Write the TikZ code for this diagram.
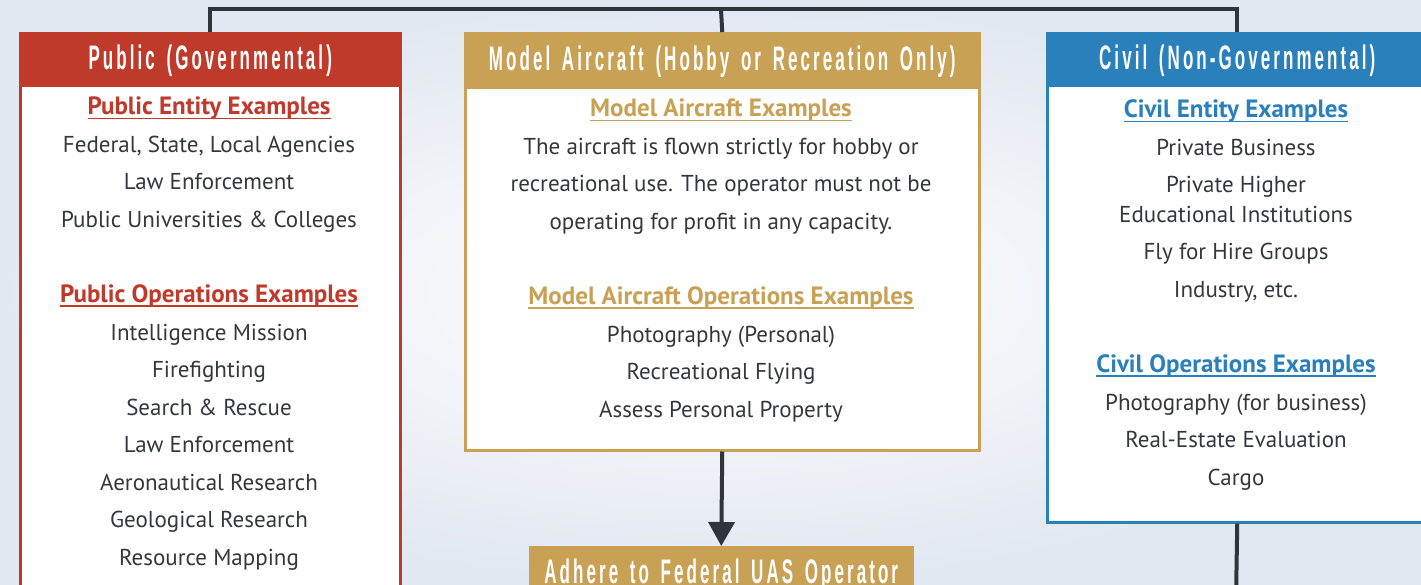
\documentclass[tikz,border=0pt]{standalone}
\usepackage{fontspec}
\setmainfont{PT Sans}
\newfontfamily\headfont[FakeStretch=0.5,LetterSpace=9,WordSpace=1.5]{Liberation Sans Bold}
\usetikzlibrary{arrows.meta,positioning,shadows}

\definecolor{pubred}{RGB}{192,58,44}
\definecolor{modelgold}{RGB}{201,161,85}
\definecolor{civilblue}{RGB}{41,128,186}
\definecolor{linedark}{RGB}{48,52,59}
\definecolor{txtgray}{RGB}{52,55,63}
\definecolor{skyblue}{RGB}{226,232,241}

\newcommand{\exhead}[1]{\setbox0\hbox{\fontsize{25}{25}\selectfont\bfseries #1}\rlap{\rule[-4.5pt]{\wd0}{1.8pt}}\box0}

\begin{document}
\begin{tikzpicture}[x=1pt,y=-1pt,node distance=37.5pt]
  \tikzstyle{card}=[draw,line width=2.5pt,fill=white,anchor=north west,inner sep=0pt,drop shadow={opacity=0.18,shadow xshift=1pt,shadow yshift=-2pt}]
  \tikzstyle{cardhead}=[draw,line width=2.5pt,anchor=north west,inner sep=0pt,minimum height=53pt,text=white,text height=24pt,text depth=4pt,font=\headfont\fontsize{34}{34}\selectfont]
  \tikzstyle{item}=[inner sep=0pt,text=txtgray,text height=16pt,text depth=0pt,font=\fontsize{23}{23}\selectfont]
  \tikzstyle{link}=[draw=linedark,line width=4pt]

  \useasboundingbox (0,0) rectangle (1421,585);
  \shade[inner color=white,outer color=skyblue] (0,0) rectangle (1421,585);

  \node[card,draw=pubred,minimum width=380pt,minimum height=600pt] (pub) at (19,32) {};
  \node[cardhead,fill=pubred,draw=pubred,minimum width=380pt] (pubhead) at (19,32) {Public (Governmental)};
  \node[card,draw=modelgold,minimum width=514pt,minimum height=417pt] (model) at (464,32) {};
  \node[cardhead,fill=modelgold,draw=modelgold,minimum width=514pt,minimum height=55pt] (modelhead) at (464,32) {Model Aircraft (Hobby or Recreation Only)};
  \node[card,draw=civilblue,minimum width=380pt,minimum height=489pt] (civil) at (1046,32) {};
  \node[cardhead,fill=civilblue,draw=civilblue,minimum width=380pt] (civilhead) at (1046,32) {Civil (Non-Governmental)};
  \node[cardhead,fill=modelgold,draw=modelgold,minimum width=382pt,minimum height=53pt,drop shadow={opacity=0.18,shadow xshift=1pt,shadow yshift=-2pt}] (adhere) at (529,546) {Adhere to Federal UAS Operator};

  \node[item,text=pubred] (pub1) at (209,107) {\exhead{Public Entity Examples}};
  \node[item] (pub2) [below of=pub1] {Federal, State, Local Agencies};
  \node[item] (pub3) [below of=pub2] {Law Enforcement};
  \node[item] (pub4) [below of=pub3] {Public Universities \& Colleges};
  \node[item,text=pubred] (pub5) [below of=pub4,yshift=-37.5pt] {\exhead{Public Operations Examples}};
  \node[item] (pub6) [below of=pub5] {Intelligence Mission};
  \node[item] (pub7) [below of=pub6] {Firefighting};
  \node[item] (pub8) [below of=pub7] {Search \& Rescue};
  \node[item] (pub9) [below of=pub8] {Law Enforcement};
  \node[item] (pub10) [below of=pub9] {Aeronautical Research};
  \node[item] (pub11) [below of=pub10] {Geological Research};
  \node[item] (pub12) [below of=pub11] {Resource Mapping};

  \node[item,text=modelgold] (model1) at (721,109) {\exhead{Model Aircraft Examples}};
  \node[item] (model2) [below of=model1] {The aircraft is flown strictly for hobby or};
  \node[item] (model3) [below of=model2] {recreational use. The operator must not be};
  \node[item] (model4) [below of=model3] {operating for profit in any capacity.};
  \node[item,text=modelgold] (model5) [below of=model4,yshift=-37.5pt] {\exhead{Model Aircraft Operations Examples}};
  \node[item] (model6) [below of=model5] {Photography (Personal)};
  \node[item] (model7) [below of=model6] {Recreational Flying};
  \node[item] (model8) [below of=model7] {Assess Personal Property};

  \node[item,text=civilblue] (civil1) at (1236,110) {\exhead{Civil Entity Examples}};
  \node[item] (civil2) [below of=civil1] {Private Business};
  \node[item] (civil3) [below of=civil2] {Private Higher};
  \node[item] (civil4) [below of=civil3,yshift=8pt] {Educational Institutions};
  \node[item] (civil5) [below of=civil4] {Fly for Hire Groups};
  \node[item] (civil6) [below of=civil5] {Industry, etc.};
  \node[item,text=civilblue] (civil7) [below of=civil6,yshift=-37.5pt] {\exhead{Civil Operations Examples}};
  \node[item] (civil8) [below of=civil7] {Photography (for business)};
  \node[item] (civil9) [below of=civil8] {Real-Estate Evaluation};
  \node[item] (civil10) [below of=civil9] {Cargo};

  \coordinate (hub) at (721,9.5);
  \coordinate (civilout) at (1236,600);
  \path[link] (pubhead.north) |- (hub) -| (civilhead.north);
  \path[link] (hub) -- (modelhead.north);
  \path[link] (civil.south) -- (civilout);
  \path[link,-{Triangle[width=26pt,length=24pt]}] (model.south) -- (adhere.north);
\end{tikzpicture}
\end{document}
